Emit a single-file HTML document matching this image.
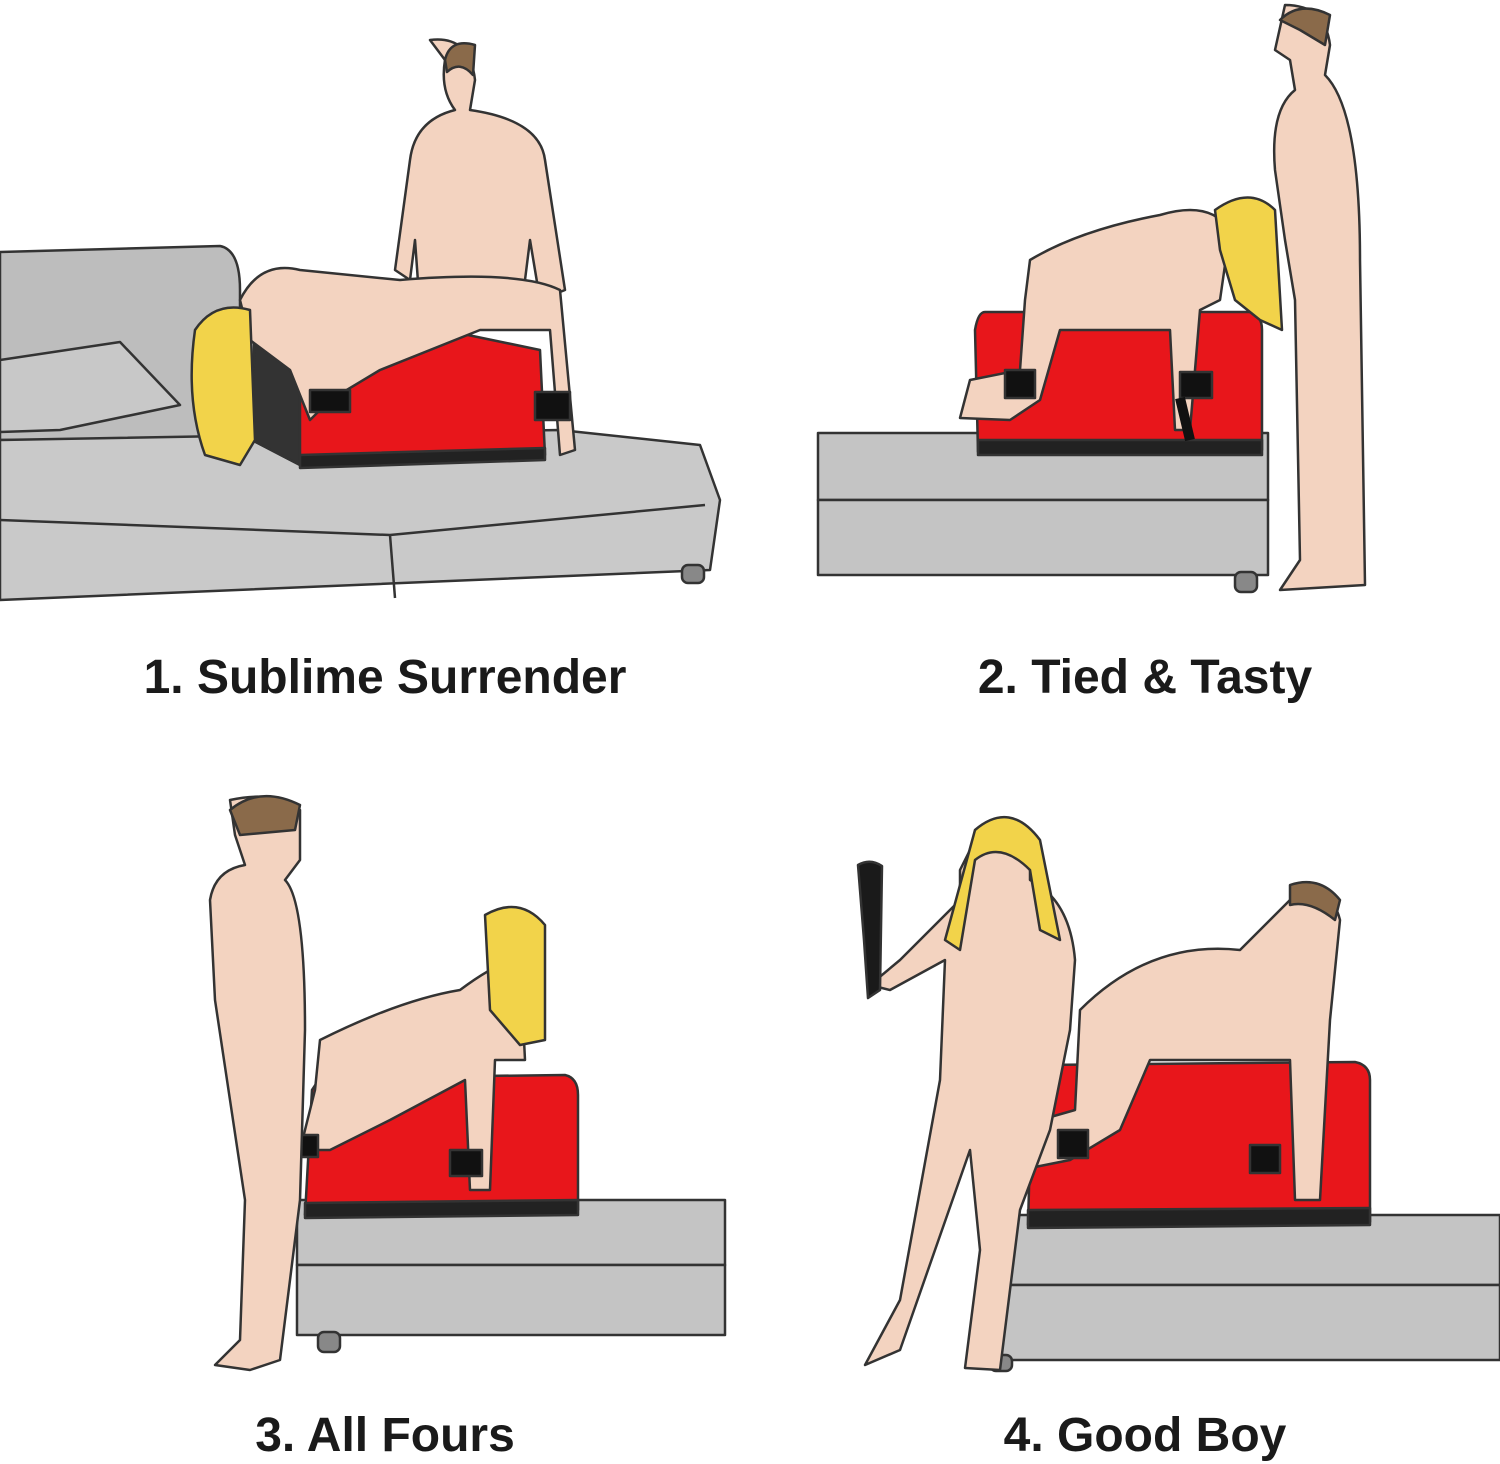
<!DOCTYPE html>
<html><head><meta charset="utf-8"><style>
html,body{margin:0;padding:0;background:#fff;}
body{width:1500px;height:1464px;position:relative;overflow:hidden;font-family:"Liberation Sans",sans-serif;}
.lbl{position:absolute;font-weight:bold;font-size:48px;color:#1a1a1a;text-align:center;width:700px;}
svg{position:absolute;left:0;top:0;}
</style></head><body>
<svg width="1500" height="1464" viewBox="0 0 1500 1464">
<g stroke="#333" stroke-width="2.5" stroke-linejoin="round">
<!-- Panel 1 -->
<path d="M0 252 L220 246 Q240 250 240 290 L240 440 L0 440 Z" fill="#bdbdbd"/>
<path d="M0 360 L120 342 L180 405 L60 430 L0 432 Z" fill="#c8c8c8"/>
<path d="M0 440 L560 430 L700 445 L720 500 L710 570 L0 600 Z" fill="#c9c9c9"/>
<path d="M0 520 L390 535 L705 505" fill="none"/>
<path d="M390 535 L395 598" fill="none"/>
<rect x="682" y="565" width="22" height="18" rx="6" fill="#888"/>
<path d="M255 310 L300 300 L540 350 L545 455 L300 465 L252 440 Z" fill="#e8161b"/>
<path d="M255 310 L300 300 L300 465 L252 440 Z" fill="#333"/>
<path d="M300 455 L545 448 L545 460 L300 468 Z" fill="#222"/>
<path d="M430 40 Q470 35 475 80 L470 110 Q540 120 545 160 L565 290 L540 300 L530 240 L520 320 L420 310 L415 240 L410 280 L395 270 L410 160 Q415 120 455 110 Q440 90 445 60 Z" fill="#f3d3c0"/>
<path d="M445 60 Q450 38 475 45 L473 75 Q460 60 447 72 Z" fill="#8a6a4a"/>
<path d="M240 300 Q260 260 300 270 L400 280 Q520 270 560 290 L575 450 L560 455 L550 330 L480 330 L380 370 L330 400 L310 420 L290 370 L250 340 Z" fill="#f3d3c0"/>
<path d="M195 330 Q215 300 250 310 L255 440 L240 465 L205 455 Q185 400 195 330 Z" fill="#f2d34a"/>
<rect x="310" y="390" width="40" height="22" fill="#111"/>
<rect x="535" y="392" width="35" height="28" fill="#111"/>
<!-- Panel 2 -->
<rect x="818" y="433" width="450" height="67" fill="#c4c4c4"/>
<rect x="818" y="500" width="450" height="75" fill="#c4c4c4"/>
<rect x="1235" y="572" width="22" height="20" rx="6" fill="#888"/>
<path d="M985 312 L1250 312 Q1262 315 1262 330 L1262 450 L978 452 L975 330 Q978 312 985 312 Z" fill="#e8161b"/>
<path d="M978 440 L1262 440 L1262 455 L978 455 Z" fill="#222"/>
<path d="M1030 260 Q1080 230 1160 215 Q1210 200 1230 230 L1220 300 L1200 310 L1190 430 L1175 430 L1170 330 L1060 330 L1040 400 L1010 420 L960 418 L970 380 L1020 370 L1025 300 Z" fill="#f3d3c0"/>
<path d="M1215 210 Q1250 185 1275 210 L1282 330 L1260 320 L1235 300 L1220 250 Z" fill="#f2d34a"/>
<rect x="1005" y="370" width="30" height="28" fill="#111"/>
<rect x="1180" y="372" width="32" height="26" fill="#111"/>
<path d="M1180 398 L1190 440" stroke="#111" stroke-width="10"/>
<path d="M1285 5 Q1325 5 1330 45 L1325 75 Q1360 110 1360 260 L1365 585 L1280 590 L1300 560 L1295 300 L1285 240 L1275 170 Q1270 110 1295 90 L1290 60 L1275 50 Z" fill="#f3d3c0"/>
<path d="M1280 20 Q1300 0 1330 15 L1325 45 L1300 30 Z" fill="#8a6a4a"/>
<!-- Panel 3 -->
<rect x="297" y="1200" width="428" height="65" fill="#c4c4c4"/>
<rect x="297" y="1265" width="428" height="70" fill="#c4c4c4"/>
<rect x="318" y="1332" width="22" height="20" rx="6" fill="#888"/>
<path d="M320 1078 L565 1075 Q578 1078 578 1095 L578 1210 L305 1215 L312 1090 Z" fill="#e8161b"/>
<path d="M305 1203 L578 1200 L578 1215 L305 1218 Z" fill="#222"/>
<path d="M320 1040 Q400 1000 460 990 Q500 960 520 960 L525 1060 L495 1060 L490 1190 L470 1190 L465 1080 L390 1120 L330 1150 L300 1150 L315 1090 Z" fill="#f3d3c0"/>
<path d="M485 915 Q520 895 545 925 L545 1040 L520 1045 L490 1010 Z" fill="#f2d34a"/>
<rect x="288" y="1135" width="30" height="22" fill="#111"/>
<rect x="450" y="1150" width="32" height="26" fill="#111"/>
<path d="M230 800 Q275 790 300 810 L300 860 L285 880 Q305 900 305 1030 L300 1200 L280 1360 L250 1370 L215 1365 L240 1340 L245 1200 L230 1100 L215 1000 L210 900 Q215 870 245 865 L235 835 Z" fill="#f3d3c0"/>
<path d="M230 810 Q260 785 300 805 L295 830 L240 835 Z" fill="#8a6a4a"/>
<!-- Panel 4 -->
<rect x="982" y="1215" width="518" height="70" fill="#c4c4c4"/>
<rect x="982" y="1285" width="518" height="75" fill="#c4c4c4"/>
<rect x="990" y="1355" width="22" height="16" rx="6" fill="#888"/>
<path d="M1040 1065 L1355 1062 Q1370 1065 1370 1080 L1370 1222 L1028 1225 L1032 1080 Z" fill="#e8161b"/>
<path d="M1028 1210 L1370 1208 L1370 1225 L1028 1228 Z" fill="#222"/>
<path d="M1080 1010 Q1150 940 1240 950 L1290 900 Q1330 880 1340 920 L1330 1020 L1320 1200 L1295 1200 L1290 1060 L1150 1060 L1120 1130 L1070 1160 L1020 1170 L1040 1120 L1075 1110 Z" fill="#f3d3c0"/>
<path d="M1290 885 Q1320 875 1340 900 L1335 920 Q1310 900 1290 905 Z" fill="#8a6a4a"/>
<rect x="1058" y="1130" width="30" height="28" fill="#111"/>
<rect x="1250" y="1145" width="30" height="28" fill="#111"/>
<path d="M980 830 Q1010 810 1030 835 L1030 880 Q1070 900 1075 960 L1070 1030 L1050 1130 L1020 1210 L1000 1370 L965 1368 L980 1250 L970 1150 L900 1350 L865 1365 L900 1300 L940 1080 L945 960 L890 990 L870 985 L900 960 L960 900 L960 870 Z" fill="#f3d3c0"/>
<path d="M975 830 Q1010 800 1040 840 L1060 940 L1040 930 L1030 870 Q1000 840 975 860 L960 950 L945 940 Z" fill="#f2d34a"/>
<path d="M858 865 Q870 858 882 866 L880 990 L868 998 L864 940 Z" fill="#1a1a1a"/>
</g>
</svg>
<div class="lbl" style="left:35px;top:650px;">1. Sublime Surrender</div>
<div class="lbl" style="left:795px;top:650px;">2. Tied &amp; Tasty</div>
<div class="lbl" style="left:35px;top:1408px;">3. All Fours</div>
<div class="lbl" style="left:795px;top:1408px;">4. Good Boy</div>
</body></html>
